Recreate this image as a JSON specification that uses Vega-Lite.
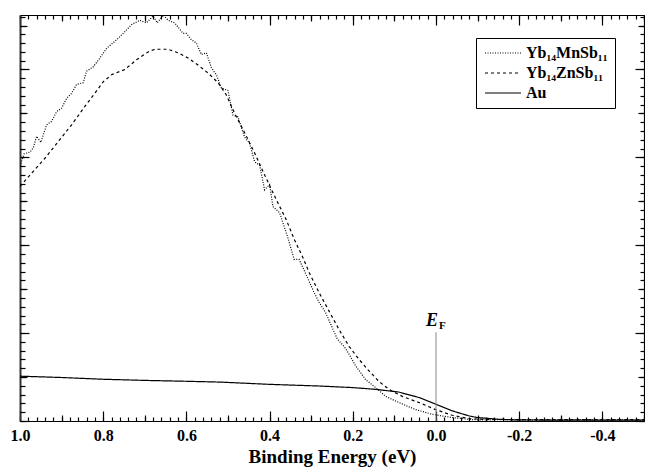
{
  "$schema": "https://vega.github.io/schema/vega-lite/v6.json",
  "width": 624,
  "height": 406,
  "autosize": {"type": "none"},
  "padding": {"left": 20, "top": 15, "right": 1, "bottom": 48},
  "background": "white",
  "config": {
    "view": {"stroke": null},
    "font": "Liberation Serif",
    "axis": {"grid": false, "title": null, "labels": false, "domain": false, "tickColor": "black", "tickWidth": 1.2}
  },
  "datasets": {
    "curves": [
      {"series": "Yb₁₄MnSb₁₁", "energy": 1.0, "intensity": 29.0},
      {"series": "Yb₁₄MnSb₁₁", "energy": 0.99, "intensity": 30.4},
      {"series": "Yb₁₄MnSb₁₁", "energy": 0.976, "intensity": 30.6},
      {"series": "Yb₁₄MnSb₁₁", "energy": 0.968, "intensity": 31.1},
      {"series": "Yb₁₄MnSb₁₁", "energy": 0.96, "intensity": 32.4},
      {"series": "Yb₁₄MnSb₁₁", "energy": 0.95, "intensity": 31.7},
      {"series": "Yb₁₄MnSb₁₁", "energy": 0.936, "intensity": 33.7},
      {"series": "Yb₁₄MnSb₁₁", "energy": 0.924, "intensity": 34.1},
      {"series": "Yb₁₄MnSb₁₁", "energy": 0.912, "intensity": 35.2},
      {"series": "Yb₁₄MnSb₁₁", "energy": 0.9, "intensity": 35.6},
      {"series": "Yb₁₄MnSb₁₁", "energy": 0.888, "intensity": 36.7},
      {"series": "Yb₁₄MnSb₁₁", "energy": 0.876, "intensity": 37.3},
      {"series": "Yb₁₄MnSb₁₁", "energy": 0.864, "intensity": 38.3},
      {"series": "Yb₁₄MnSb₁₁", "energy": 0.848, "intensity": 38.5},
      {"series": "Yb₁₄MnSb₁₁", "energy": 0.84, "intensity": 39.8},
      {"series": "Yb₁₄MnSb₁₁", "energy": 0.824, "intensity": 40.3},
      {"series": "Yb₁₄MnSb₁₁", "energy": 0.808, "intensity": 41.3},
      {"series": "Yb₁₄MnSb₁₁", "energy": 0.792, "intensity": 42.4},
      {"series": "Yb₁₄MnSb₁₁", "energy": 0.772, "intensity": 43.2},
      {"series": "Yb₁₄MnSb₁₁", "energy": 0.752, "intensity": 44.1},
      {"series": "Yb₁₄MnSb₁₁", "energy": 0.732, "intensity": 45.1},
      {"series": "Yb₁₄MnSb₁₁", "energy": 0.712, "intensity": 45.6},
      {"series": "Yb₁₄MnSb₁₁", "energy": 0.696, "intensity": 45.3},
      {"series": "Yb₁₄MnSb₁₁", "energy": 0.68, "intensity": 46.1},
      {"series": "Yb₁₄MnSb₁₁", "energy": 0.67, "intensity": 45.3},
      {"series": "Yb₁₄MnSb₁₁", "energy": 0.656, "intensity": 46.2},
      {"series": "Yb₁₄MnSb₁₁", "energy": 0.644, "intensity": 45.6},
      {"series": "Yb₁₄MnSb₁₁", "energy": 0.628, "intensity": 45.3},
      {"series": "Yb₁₄MnSb₁₁", "energy": 0.608, "intensity": 44.1},
      {"series": "Yb₁₄MnSb₁₁", "energy": 0.6, "intensity": 44.1},
      {"series": "Yb₁₄MnSb₁₁", "energy": 0.588, "intensity": 43.4},
      {"series": "Yb₁₄MnSb₁₁", "energy": 0.576, "intensity": 43.0},
      {"series": "Yb₁₄MnSb₁₁", "energy": 0.564, "intensity": 41.7},
      {"series": "Yb₁₄MnSb₁₁", "energy": 0.552, "intensity": 41.9},
      {"series": "Yb₁₄MnSb₁₁", "energy": 0.54, "intensity": 40.2},
      {"series": "Yb₁₄MnSb₁₁", "energy": 0.528, "intensity": 39.4},
      {"series": "Yb₁₄MnSb₁₁", "energy": 0.516, "intensity": 37.9},
      {"series": "Yb₁₄MnSb₁₁", "energy": 0.5, "intensity": 37.6},
      {"series": "Yb₁₄MnSb₁₁", "energy": 0.488, "intensity": 34.8},
      {"series": "Yb₁₄MnSb₁₁", "energy": 0.476, "intensity": 34.6},
      {"series": "Yb₁₄MnSb₁₁", "energy": 0.46, "intensity": 32.3},
      {"series": "Yb₁₄MnSb₁₁", "energy": 0.448, "intensity": 31.6},
      {"series": "Yb₁₄MnSb₁₁", "energy": 0.436, "intensity": 29.5},
      {"series": "Yb₁₄MnSb₁₁", "energy": 0.424, "intensity": 29.1},
      {"series": "Yb₁₄MnSb₁₁", "energy": 0.412, "intensity": 26.3},
      {"series": "Yb₁₄MnSb₁₁", "energy": 0.4, "intensity": 26.9},
      {"series": "Yb₁₄MnSb₁₁", "energy": 0.392, "intensity": 24.4},
      {"series": "Yb₁₄MnSb₁₁", "energy": 0.376, "intensity": 23.7},
      {"series": "Yb₁₄MnSb₁₁", "energy": 0.357, "intensity": 21.0},
      {"series": "Yb₁₄MnSb₁₁", "energy": 0.341, "intensity": 18.4},
      {"series": "Yb₁₄MnSb₁₁", "energy": 0.329, "intensity": 18.4},
      {"series": "Yb₁₄MnSb₁₁", "energy": 0.305, "intensity": 15.9},
      {"series": "Yb₁₄MnSb₁₁", "energy": 0.293, "intensity": 14.6},
      {"series": "Yb₁₄MnSb₁₁", "energy": 0.281, "intensity": 13.5},
      {"series": "Yb₁₄MnSb₁₁", "energy": 0.265, "intensity": 12.3},
      {"series": "Yb₁₄MnSb₁₁", "energy": 0.253, "intensity": 11.0},
      {"series": "Yb₁₄MnSb₁₁", "energy": 0.237, "intensity": 9.3},
      {"series": "Yb₁₄MnSb₁₁", "energy": 0.221, "intensity": 8.5},
      {"series": "Yb₁₄MnSb₁₁", "energy": 0.209, "intensity": 7.6},
      {"series": "Yb₁₄MnSb₁₁", "energy": 0.193, "intensity": 6.25},
      {"series": "Yb₁₄MnSb₁₁", "energy": 0.169, "intensity": 4.7},
      {"series": "Yb₁₄MnSb₁₁", "energy": 0.145, "intensity": 3.8},
      {"series": "Yb₁₄MnSb₁₁", "energy": 0.121, "intensity": 2.8},
      {"series": "Yb₁₄MnSb₁₁", "energy": 0.089, "intensity": 2.1},
      {"series": "Yb₁₄MnSb₁₁", "energy": 0.049, "intensity": 1.3},
      {"series": "Yb₁₄MnSb₁₁", "energy": 0.009, "intensity": 0.76},
      {"series": "Yb₁₄MnSb₁₁", "energy": -0.039, "intensity": 0.39},
      {"series": "Yb₁₄MnSb₁₁", "energy": -0.087, "intensity": 0.15},
      {"series": "Yb₁₄MnSb₁₁", "energy": -0.12, "intensity": 0.12},
      {"series": "Yb₁₄MnSb₁₁", "energy": -0.16, "intensity": 0.18},
      {"series": "Yb₁₄MnSb₁₁", "energy": -0.2, "intensity": 0.1},
      {"series": "Yb₁₄MnSb₁₁", "energy": -0.25, "intensity": 0.15},
      {"series": "Yb₁₄MnSb₁₁", "energy": -0.3, "intensity": 0.1},
      {"series": "Yb₁₄MnSb₁₁", "energy": -0.35, "intensity": 0.17},
      {"series": "Yb₁₄MnSb₁₁", "energy": -0.4, "intensity": 0.1},
      {"series": "Yb₁₄MnSb₁₁", "energy": -0.45, "intensity": 0.14},
      {"series": "Yb₁₄MnSb₁₁", "energy": -0.5, "intensity": 0.1},
      {"series": "Yb₁₄ZnSb₁₁", "energy": 1.0, "intensity": 26.7},
      {"series": "Yb₁₄ZnSb₁₁", "energy": 0.972, "intensity": 28.2},
      {"series": "Yb₁₄ZnSb₁₁", "energy": 0.94, "intensity": 29.9},
      {"series": "Yb₁₄ZnSb₁₁", "energy": 0.908, "intensity": 31.8},
      {"series": "Yb₁₄ZnSb₁₁", "energy": 0.876, "intensity": 33.7},
      {"series": "Yb₁₄ZnSb₁₁", "energy": 0.844, "intensity": 35.8},
      {"series": "Yb₁₄ZnSb₁₁", "energy": 0.82, "intensity": 37.3},
      {"series": "Yb₁₄ZnSb₁₁", "energy": 0.8, "intensity": 38.6},
      {"series": "Yb₁₄ZnSb₁₁", "energy": 0.78, "intensity": 39.4},
      {"series": "Yb₁₄ZnSb₁₁", "energy": 0.748, "intensity": 40.0},
      {"series": "Yb₁₄ZnSb₁₁", "energy": 0.72, "intensity": 41.1},
      {"series": "Yb₁₄ZnSb₁₁", "energy": 0.692, "intensity": 42.0},
      {"series": "Yb₁₄ZnSb₁₁", "energy": 0.676, "intensity": 42.3},
      {"series": "Yb₁₄ZnSb₁₁", "energy": 0.644, "intensity": 42.3},
      {"series": "Yb₁₄ZnSb₁₁", "energy": 0.62, "intensity": 41.9},
      {"series": "Yb₁₄ZnSb₁₁", "energy": 0.596, "intensity": 41.3},
      {"series": "Yb₁₄ZnSb₁₁", "energy": 0.572, "intensity": 40.5},
      {"series": "Yb₁₄ZnSb₁₁", "energy": 0.548, "intensity": 39.6},
      {"series": "Yb₁₄ZnSb₁₁", "energy": 0.524, "intensity": 38.5},
      {"series": "Yb₁₄ZnSb₁₁", "energy": 0.504, "intensity": 37.1},
      {"series": "Yb₁₄ZnSb₁₁", "energy": 0.484, "intensity": 35.0},
      {"series": "Yb₁₄ZnSb₁₁", "energy": 0.46, "intensity": 32.8},
      {"series": "Yb₁₄ZnSb₁₁", "energy": 0.436, "intensity": 30.5},
      {"series": "Yb₁₄ZnSb₁₁", "energy": 0.412, "intensity": 28.0},
      {"series": "Yb₁₄ZnSb₁₁", "energy": 0.384, "intensity": 25.2},
      {"series": "Yb₁₄ZnSb₁₁", "energy": 0.36, "intensity": 22.9},
      {"series": "Yb₁₄ZnSb₁₁", "energy": 0.34, "intensity": 20.6},
      {"series": "Yb₁₄ZnSb₁₁", "energy": 0.32, "intensity": 18.6},
      {"series": "Yb₁₄ZnSb₁₁", "energy": 0.305, "intensity": 16.9},
      {"series": "Yb₁₄ZnSb₁₁", "energy": 0.281, "intensity": 14.6},
      {"series": "Yb₁₄ZnSb₁₁", "energy": 0.257, "intensity": 12.5},
      {"series": "Yb₁₄ZnSb₁₁", "energy": 0.233, "intensity": 10.4},
      {"series": "Yb₁₄ZnSb₁₁", "energy": 0.209, "intensity": 8.5},
      {"series": "Yb₁₄ZnSb₁₁", "energy": 0.185, "intensity": 7.0},
      {"series": "Yb₁₄ZnSb₁₁", "energy": 0.161, "intensity": 5.7},
      {"series": "Yb₁₄ZnSb₁₁", "energy": 0.137, "intensity": 4.5},
      {"series": "Yb₁₄ZnSb₁₁", "energy": 0.113, "intensity": 3.6},
      {"series": "Yb₁₄ZnSb₁₁", "energy": 0.081, "intensity": 2.8},
      {"series": "Yb₁₄ZnSb₁₁", "energy": 0.041, "intensity": 2.1},
      {"series": "Yb₁₄ZnSb₁₁", "energy": 0.001, "intensity": 1.3},
      {"series": "Yb₁₄ZnSb₁₁", "energy": -0.039, "intensity": 0.65},
      {"series": "Yb₁₄ZnSb₁₁", "energy": -0.079, "intensity": 0.27},
      {"series": "Yb₁₄ZnSb₁₁", "energy": -0.12, "intensity": 0.18},
      {"series": "Yb₁₄ZnSb₁₁", "energy": -0.2, "intensity": 0.15},
      {"series": "Yb₁₄ZnSb₁₁", "energy": -0.3, "intensity": 0.15},
      {"series": "Yb₁₄ZnSb₁₁", "energy": -0.4, "intensity": 0.15},
      {"series": "Yb₁₄ZnSb₁₁", "energy": -0.5, "intensity": 0.15},
      {"series": "Au", "energy": 1.0, "intensity": 5.1},
      {"series": "Au", "energy": 0.9, "intensity": 4.95},
      {"series": "Au", "energy": 0.8, "intensity": 4.75},
      {"series": "Au", "energy": 0.7, "intensity": 4.62},
      {"series": "Au", "energy": 0.6, "intensity": 4.52},
      {"series": "Au", "energy": 0.52, "intensity": 4.43},
      {"series": "Au", "energy": 0.4, "intensity": 4.17},
      {"series": "Au", "energy": 0.28, "intensity": 3.98},
      {"series": "Au", "energy": 0.2, "intensity": 3.8},
      {"series": "Au", "energy": 0.145, "intensity": 3.6},
      {"series": "Au", "energy": 0.09, "intensity": 3.3},
      {"series": "Au", "energy": 0.04, "intensity": 2.66},
      {"series": "Au", "energy": 0.0, "intensity": 1.9},
      {"series": "Au", "energy": -0.04, "intensity": 1.14},
      {"series": "Au", "energy": -0.08, "intensity": 0.57},
      {"series": "Au", "energy": -0.1, "intensity": 0.39},
      {"series": "Au", "energy": -0.15, "intensity": 0.2},
      {"series": "Au", "energy": -0.2, "intensity": 0.12},
      {"series": "Au", "energy": -0.3, "intensity": 0.1},
      {"series": "Au", "energy": -0.4, "intensity": 0.1},
      {"series": "Au", "energy": -0.5, "intensity": 0.1}
    ]
  },
  "layer": [
    {
      "data": {"name": "curves"},
      "mark": {"type": "line", "clip": true, "color": "black", "strokeWidth": 1.2},
      "encoding": {
        "x": {
          "field": "energy", "type": "quantitative",
          "scale": {"domain": [1.0, -0.5], "nice": false, "zero": false},
          "axis": {
            "orient": "bottom",
            "values": [1, 0.8, 0.6, 0.4, 0.2, 0, -0.2, -0.4],
            "labels": true, "domain": true,
            "labelExpr": "replace(format(datum.value, '.1f'), '−', '-')",
            "tickSize": -10,
            "domainColor": "black", "domainWidth": 1.2,
            "labelOverlap": false, "labelFlush": false,
            "labelFont": "Liberation Serif", "labelFontWeight": "bold", "labelFontSize": 16, "labelColor": "black",
            "labelPadding": 16,
            "title": "Binding Energy (eV)",
            "titleFont": "Liberation Serif", "titleFontWeight": "bold", "titleFontSize": 19, "titleColor": "black",
            "titlePadding": 4
          }
        },
        "y": {
          "field": "intensity", "type": "quantitative",
          "scale": {"domain": [0, 46.2], "nice": false, "zero": false},
          "axis": {
            "orient": "left",
            "values": [0, 10, 20, 30, 40],
            "domain": true, "domainColor": "#333333", "domainWidth": 2,
            "tickSize": -9
          }
        },
        "strokeDash": {
          "field": "series", "type": "nominal",
          "scale": {"domain": ["Yb₁₄MnSb₁₁", "Yb₁₄ZnSb₁₁", "Au"], "range": [[1, 1.5], [3, 3], [1, 0]]},
          "legend": {
            "title": null,
            "orient": "none", "legendX": 456, "legendY": 23,
            "strokeColor": "black", "fillColor": "white", "padding": 7,
            "symbolType": "M-1,0H5", "symbolSize": 144,
            "symbolStrokeColor": "black", "symbolStrokeWidth": 1.2,
            "labelFont": "Liberation Serif", "labelFontSize": 16, "labelFontWeight": "bold", "labelColor": "black",
            "labelOffset": 27, "rowPadding": 4
          }
        }
      }
    },
    {
      "data": {"values": [{}]},
      "mark": {"type": "rule", "color": "#888888", "strokeWidth": 1},
      "encoding": {
        "x": {
          "datum": 0, "type": "quantitative",
          "axis": {
            "orient": "top",
            "values": [1, 0.8, 0.6, 0.4, 0.2, 0, -0.2, -0.4],
            "domain": true, "domainColor": "black", "domainWidth": 1.2,
            "tickSize": -10
          }
        },
        "y": {
          "datum": 0, "type": "quantitative",
          "axis": {
            "orient": "right",
            "values": [0, 10, 20, 30, 40],
            "domain": true, "domainColor": "black", "domainWidth": 1.2,
            "tickSize": -9
          }
        },
        "y2": {"datum": 10.1}
      }
    },
    {
      "data": {"values": [{}]},
      "mark": {"type": "text", "text": "E", "font": "Liberation Serif", "fontSize": 18, "fontWeight": "bold", "fontStyle": "italic", "align": "center", "baseline": "alphabetic", "dx": -4, "color": "black"},
      "encoding": {
        "x": {
          "datum": 0, "type": "quantitative",
          "axis": {"orient": "bottom", "values": [0.9, 0.7, 0.5, 0.3, 0.1, -0.1, -0.3, -0.5], "tickSize": -6}
        },
        "y": {
          "datum": 10.76, "type": "quantitative",
          "axis": {"orient": "left", "values": [5, 15, 25, 35, 45], "tickSize": -7}
        }
      }
    },
    {
      "data": {"values": [{}]},
      "mark": {"type": "text", "text": "F", "font": "Liberation Serif", "fontSize": 11, "fontWeight": "bold", "align": "left", "baseline": "alphabetic", "dx": 3, "color": "black"},
      "encoding": {
        "x": {
          "datum": 0, "type": "quantitative",
          "axis": {"orient": "top", "values": [0.9, 0.7, 0.5, 0.3, 0.1, -0.1, -0.3, -0.5], "tickSize": -6}
        },
        "y": {
          "datum": 10.5, "type": "quantitative",
          "axis": {"orient": "right", "values": [5, 15, 25, 35, 45], "tickSize": -6}
        }
      }
    },
    {
      "data": {"values": [{}]},
      "mark": {"type": "text", "text": " ", "opacity": 0},
      "encoding": {
        "x": {
          "datum": 0, "type": "quantitative",
          "axis": {"orient": "bottom", "values": [1,0.98,0.96,0.94,0.92,0.9,0.88,0.86,0.84,0.82,0.8,0.78,0.76,0.74,0.72,0.7,0.68,0.66,0.64,0.62,0.6,0.58,0.56,0.54,0.52,0.5,0.48,0.46,0.44,0.42,0.4,0.38,0.36,0.34,0.32,0.3,0.28,0.26,0.24,0.22,0.2,0.18,0.16,0.14,0.12,0.1,0.08,0.06,0.04,0.02,0,-0.02,-0.04,-0.06,-0.08,-0.1,-0.12,-0.14,-0.16,-0.18,-0.2,-0.22,-0.24,-0.26,-0.28,-0.3,-0.32,-0.34,-0.36,-0.38,-0.4,-0.42,-0.44,-0.46,-0.48,-0.5], "tickSize": -4}
        },
        "y": {
          "datum": 0, "type": "quantitative",
          "axis": {"orient": "left", "values": [0,1,2,3,4,5,6,7,8,9,10,11,12,13,14,15,16,17,18,19,20,21,22,23,24,25,26,27,28,29,30,31,32,33,34,35,36,37,38,39,40,41,42,43,44,45,46], "tickSize": -5}
        }
      }
    },
    {
      "data": {"values": [{}]},
      "mark": {"type": "text", "text": " ", "opacity": 0},
      "encoding": {
        "x": {
          "datum": 0, "type": "quantitative",
          "axis": {"orient": "top", "values": [1,0.98,0.96,0.94,0.92,0.9,0.88,0.86,0.84,0.82,0.8,0.78,0.76,0.74,0.72,0.7,0.68,0.66,0.64,0.62,0.6,0.58,0.56,0.54,0.52,0.5,0.48,0.46,0.44,0.42,0.4,0.38,0.36,0.34,0.32,0.3,0.28,0.26,0.24,0.22,0.2,0.18,0.16,0.14,0.12,0.1,0.08,0.06,0.04,0.02,0,-0.02,-0.04,-0.06,-0.08,-0.1,-0.12,-0.14,-0.16,-0.18,-0.2,-0.22,-0.24,-0.26,-0.28,-0.3,-0.32,-0.34,-0.36,-0.38,-0.4,-0.42,-0.44,-0.46,-0.48,-0.5], "tickSize": -4}
        },
        "y": {
          "datum": 0, "type": "quantitative",
          "axis": {"orient": "right", "values": [0,1,2,3,4,5,6,7,8,9,10,11,12,13,14,15,16,17,18,19,20,21,22,23,24,25,26,27,28,29,30,31,32,33,34,35,36,37,38,39,40,41,42,43,44,45,46], "tickSize": -4}
        }
      }
    }
  ],
  "resolve": {"axis": {"x": "independent", "y": "independent"}}
}
